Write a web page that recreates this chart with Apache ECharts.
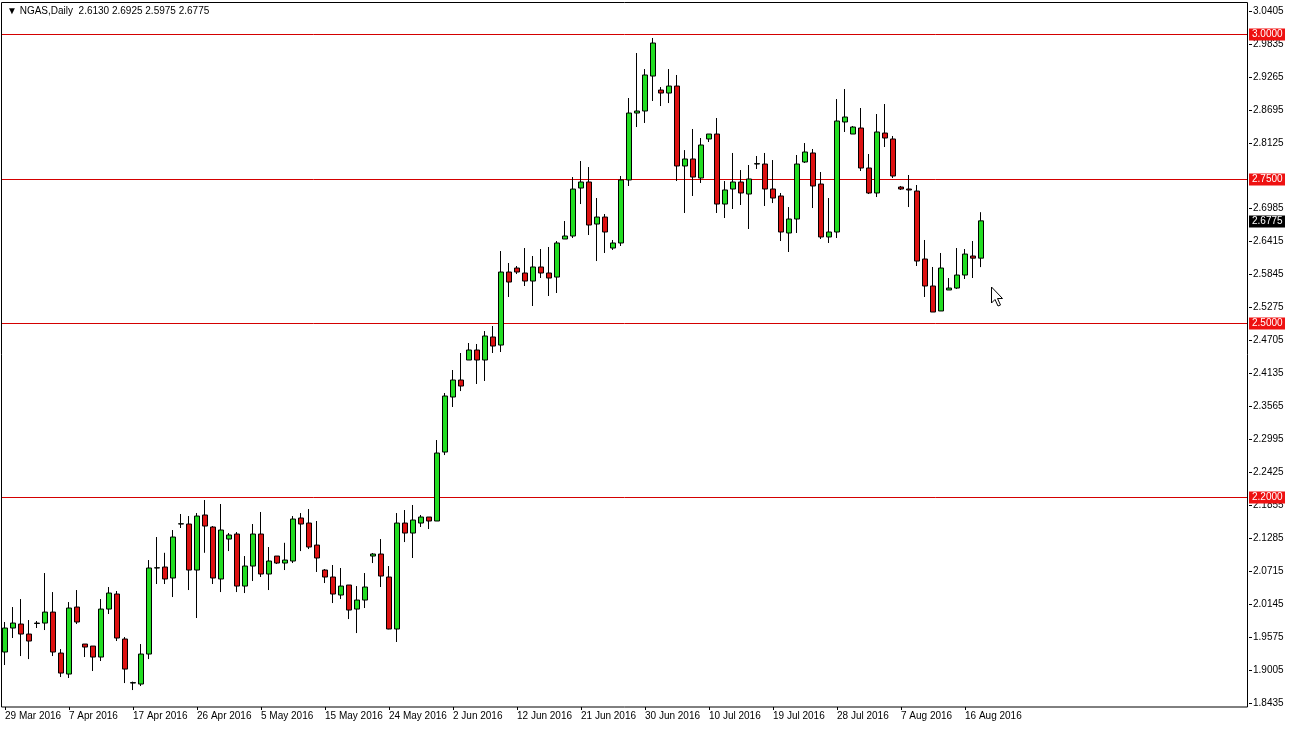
<!DOCTYPE html>
<html><head><meta charset="utf-8">
<script src="https://cdn.jsdelivr.net/npm/echarts@6/dist/echarts.min.js"></script>
<style>html,body{margin:0;padding:0;background:#fff}#c{width:1289px;height:729px}</style>
</head><body><div id="c"></div><script>
const symbolName = 'NGAS,Daily';
const startDate = [2016, 2, 29]; // 29 Mar 2016, bars Sun-Fri
const emptyBarsRight = 33;
const levels = [3.0, 2.75, 2.5, 2.2];
const yMin = 1.8435, yMax = 3.0405, yStep = 0.057;

const opens = [
1.9317,1.9732,1.9801,1.9628,1.9810,1.9818,2.0008,1.9299,1.8936,2.0095,
1.9455,1.9420,1.9230,2.0060,2.0320,1.9542,1.8780,1.8763,1.9282,2.0770,
2.0787,2.0597,2.1531,2.1531,2.0735,2.1687,2.1479,2.0580,2.1271,2.1358,
2.0458,2.0804,2.1358,2.0666,2.0977,2.0856,2.0891,2.1635,2.1548,2.1167,
2.0735,2.0614,2.0303,2.0476,2.0060,2.0216,2.0977,2.1012,2.0614,1.9715,
2.1548,2.1375,2.1548,2.1652,2.1583,2.2776,2.3728,2.4022,2.4368,2.4541,
2.4368,2.4766,2.4627,2.5890,2.5959,2.5873,2.5734,2.5977,2.5873,2.5803,
2.6461,2.6513,2.7343,2.7447,2.6720,2.6841,2.6305,2.6392,2.7482,2.8640,
2.8675,2.9280,2.9038,2.8986,2.9107,2.7724,2.7845,2.7516,2.8191,2.8277,
2.7066,2.7326,2.7447,2.7239,2.7758,2.7758,2.7326,2.7205,2.6565,2.6807,
2.7793,2.7949,2.7412,2.6496,2.6582,2.8485,2.8277,2.8381,2.7689,2.7257,
2.8294,2.8191,2.7360,2.7326,2.7291,2.6115,2.5648,2.5216,2.5579,2.5613,
2.5838,2.6167,2.6130];
const closes = [
1.9732,1.9818,1.9628,1.9507,1.9818,2.0008,1.9317,1.8953,2.0078,1.9836,
1.9403,1.9230,2.0060,2.0337,1.9559,1.9022,1.8788,1.9282,2.0770,2.0775,
2.0580,2.1306,2.1536,2.0735,2.1669,2.1496,2.0597,2.1427,2.1341,2.0458,
2.0804,2.1358,2.0666,2.0891,2.0856,2.0908,2.1617,2.1531,2.1133,2.0943,
2.0614,2.0320,2.0458,2.0043,2.0216,2.0441,2.1012,2.0631,1.9715,2.1548,
2.1375,2.1600,2.1652,2.1583,2.2759,2.3745,2.4022,2.3918,2.4541,2.4368,
2.4783,2.4610,2.5890,2.5717,2.5890,2.5734,2.5977,2.5873,2.5786,2.6392,
2.6513,2.7325,2.7447,2.6703,2.6841,2.6582,2.6392,2.7482,2.8640,2.8675,
2.9298,2.9851,2.8986,2.9107,2.7724,2.7845,2.7533,2.8087,2.8277,2.7066,
2.7309,2.7447,2.7257,2.7499,2.7765,2.7326,2.7170,2.6582,2.6807,2.7758,
2.7966,2.7378,2.6496,2.6582,2.8502,2.8571,2.8398,2.7689,2.7257,2.8312,
2.8208,2.7551,2.7326,2.7309,2.6080,2.5648,2.5198,2.5959,2.5613,2.5838,
2.6201,2.6130,2.6775];
const highs = [
1.9836,2.0095,2.0233,1.9870,1.9853,2.0683,2.0354,1.9368,2.0181,2.0389,
1.9455,1.9420,2.0233,2.0441,2.0372,1.9576,1.8805,1.9455,2.0908,2.1306,
2.1033,2.1427,2.1704,2.1669,2.1721,2.1946,2.1496,2.1877,2.1375,2.1392,
2.0977,2.1531,2.1739,2.1133,2.0977,2.1206,2.1669,2.1721,2.1790,2.1583,
2.0752,2.0822,2.0770,2.0476,2.0458,2.0683,2.1029,2.1271,2.0804,2.1721,
2.1773,2.1860,2.1687,2.1652,2.2984,2.3797,2.4195,2.4489,2.4662,2.4645,
2.4869,2.4956,2.6253,2.6046,2.5994,2.6305,2.6167,2.6288,2.6323,2.6426,
2.6772,2.7533,2.7810,2.7706,2.7170,2.6893,2.6444,2.7551,2.8900,2.9678,
2.9401,2.9938,2.9090,2.9401,2.9298,2.7999,2.8364,2.8208,2.8277,2.8554,
2.7464,2.7949,2.7654,2.7741,2.7897,2.7949,2.7827,2.7257,2.7014,2.7914,
2.8121,2.8018,2.7620,2.7170,2.8882,2.9055,2.8416,2.8727,2.7931,2.8623,
2.8796,2.8243,2.7378,2.7568,2.7395,2.6444,2.5977,2.6219,2.5786,2.6305,
2.6288,2.6426,2.6925];
const lows = [
1.9092,1.9559,1.9247,1.9195,1.9732,1.9697,1.9247,1.8884,1.8867,1.9801,
1.9230,1.8988,1.9161,1.9974,1.9507,1.8780,1.8659,1.8728,1.9195,2.0493,
2.0493,2.0268,2.1462,2.0389,1.9905,2.1033,2.0493,2.0354,2.1063,2.0354,
2.0337,2.0545,2.0614,2.0389,2.0839,2.0735,2.0856,2.1063,2.1098,2.0701,
2.0510,2.0164,2.0233,1.9887,1.9645,2.0078,2.0856,2.0441,1.9710,1.9490,
2.1219,2.0943,2.1479,2.1444,2.1583,2.2724,2.3555,2.3831,2.4368,2.3953,
2.4005,2.4489,2.4506,2.5458,2.5855,2.5648,2.5302,2.5786,2.5475,2.5527,
2.6461,2.6478,2.7066,2.6530,2.6080,2.6219,2.6271,2.6340,2.7378,2.8398,
2.8468,2.8848,2.8761,2.8813,2.7464,2.6911,2.7205,2.7430,2.8139,2.6911,
2.6824,2.6980,2.7049,2.6634,2.7672,2.7032,2.7083,2.6426,2.6236,2.6565,
2.7776,2.6997,2.6461,2.6392,2.6478,2.8312,2.8277,2.7637,2.7239,2.7187,
2.8052,2.7516,2.7309,2.7014,2.5994,2.5458,2.5198,2.5216,2.5579,2.5596,
2.5769,2.5786,2.5975];

const months = ['Jan','Feb','Mar','Apr','May','Jun','Jul','Aug','Sep','Oct','Nov','Dec'];
function makeDates(n) {
  const d = new Date(Date.UTC(startDate[0], startDate[1], startDate[2]));
  const out = [];
  while (out.length < n) {
    if (d.getUTCDay() !== 6) out.push(d.getUTCDate() + ' ' + months[d.getUTCMonth()] + ' ' + d.getUTCFullYear());
    d.setUTCDate(d.getUTCDate() + 1);
  }
  return out;
}
const dates = makeDates(opens.length);
const categories = dates.concat(new Array(emptyBarsRight).fill(''));
const ohlc = opens.map((o, i) => [o, closes[i], lows[i], highs[i]]);
const last = opens.length - 1;
const flagged = levels.concat([closes[last]]);

const chart = echarts.init(document.getElementById('c'), null, {renderer: 'canvas'});
const font = 'Liberation Sans, Arial, sans-serif';
const showIdx = (idx, val) => idx % 8 === 0 && val !== '';

const baseGraphic = [
  {type: 'rect', silent: true, z: 10, shape: {x: 1.5, y: 2.5, width: 1246, height: 704.5},
    style: {fill: null, stroke: '#000', lineWidth: 1}},
  {type: 'text', silent: true, z: 10, left: 7, top: 6,
    style: {text: '\u25BC ' + symbolName + '  ' + [opens[last], highs[last], lows[last], closes[last]].map(v => v.toFixed(4)).join(' '),
      fill: '#000', fontSize: 10, fontFamily: font}},
  {type: 'polygon', silent: true, z: 20,
    shape: {points: [[991.5, 287], [991.5, 303], [995, 299.5], [998, 306], [1000.5, 305], [997.5, 298.5], [1002.5, 298.5]]},
    style: {fill: '#fff', stroke: '#000', lineWidth: 1}}
];

chart.setOption({
  animation: false,
  backgroundColor: '#fff',
  grid: {left: 1, right: 40, top: 11, bottom: 26, containLabel: false},
  xAxis: {
    type: 'category', data: categories, boundaryGap: true, offset: 4,
    axisLine: {show: false},
    axisTick: {show: true, alignWithLabel: true, interval: showIdx, length: 3, lineStyle: {color: '#000'}},
    axisLabel: {interval: showIdx, align: 'left', margin: 4, color: '#000', fontSize: 10, fontFamily: font},
    splitLine: {show: false}
  },
  yAxis: {
    type: 'value', position: 'right', min: yMin, max: yMax, interval: yStep,
    axisLine: {show: false},
    axisTick: {show: true, length: 3, lineStyle: {color: '#000'}},
    axisLabel: {color: '#000', fontSize: 10, fontFamily: font, margin: 4,
      formatter: v => flagged.some(f => Math.abs(f - v) < 0.012) ? '' : v.toFixed(4)},
    splitLine: {show: false}
  },
  series: [{
    type: 'candlestick',
    name: 'price',
    data: ohlc,
    barWidth: 5,
    z: 3,
    itemStyle: {color: '#22dd22', color0: '#dd1111', borderColor: '#000', borderColor0: '#000', borderColorDoji: '#000', borderWidth: 1}
  }],
  graphic: baseGraphic
});

// price level lines and flags, placed through the y axis scale
const gridRight = 1249;
const extra = [];
flagged.forEach((v, i) => {
  const isBid = i === levels.length;
  const y = Math.round(chart.convertToPixel({yAxisIndex: 0}, v)) + 0.5;
  if (!isBid) {
    extra.push({type: 'line', silent: true, z: 1,
      shape: {x1: 2, y1: y, x2: gridRight - 2, y2: y},
      style: {stroke: '#d40000', lineWidth: 1}});
  }
  extra.push({type: 'rect', silent: true, z: 30,
    shape: {x: gridRight, y: y - 6, width: 36, height: 12},
    style: {fill: isBid ? '#000' : '#ee1111'}});
  extra.push({type: 'text', silent: true, z: 31, x: gridRight + 3, y: y - 5,
    style: {text: v.toFixed(4), fill: '#fff', fontSize: 10, fontFamily: font}});
});
chart.setOption({graphic: baseGraphic.concat(extra)});
</script></body></html>
